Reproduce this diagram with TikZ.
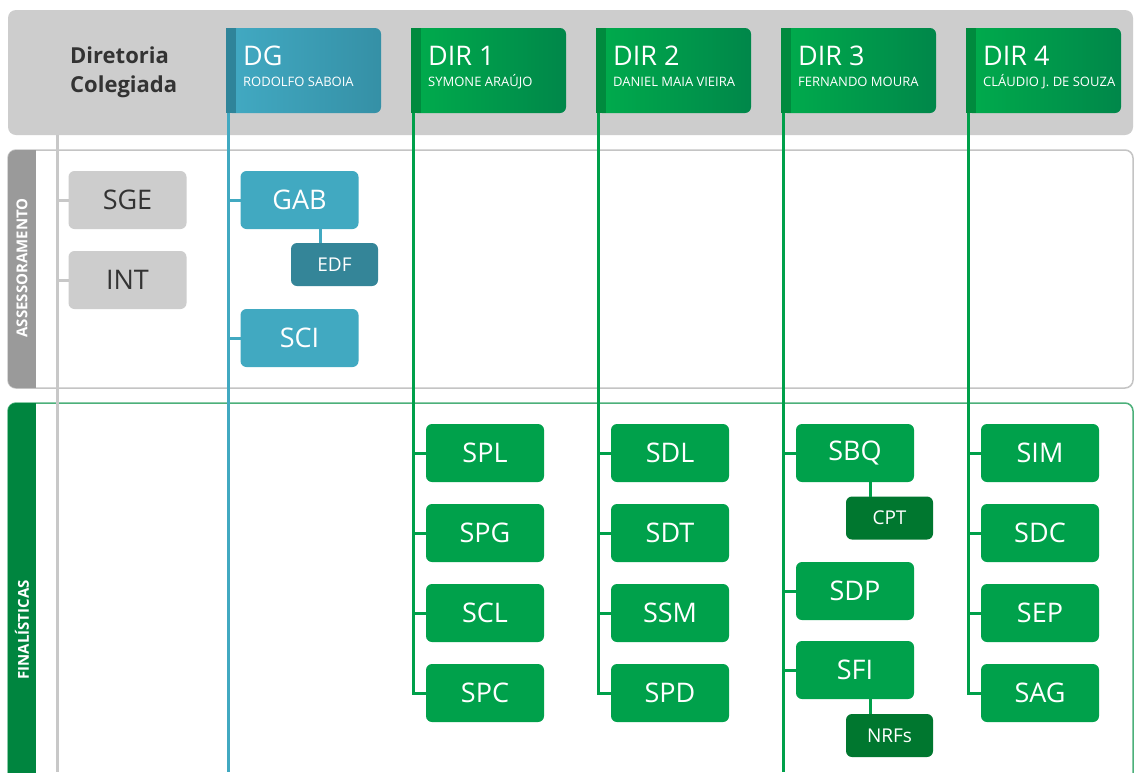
\documentclass[tikz,border=0pt]{standalone}
\usepackage{fontspec}
\setmainfont{Open Sans}
\usetikzlibrary{positioning}

\definecolor{hdrgray}{HTML}{CDCDCD}
\definecolor{panelgray}{HTML}{C4C4C4}
\definecolor{stripgray}{HTML}{9A9A9A}
\definecolor{stripgreen}{HTML}{00853F}
\definecolor{panelgreen}{HTML}{4CB07A}
\definecolor{linegray}{HTML}{C8C8C8}
\definecolor{bluelink}{HTML}{41A9C1}
\definecolor{bluebox}{HTML}{41A9C1}
\definecolor{blueboxdk}{HTML}{348598}
\definecolor{greenlink}{HTML}{00A04A}
\definecolor{greenbox}{HTML}{00A14B}
\definecolor{greenboxdk}{HTML}{00772F}
\definecolor{textdark}{HTML}{333333}
\definecolor{blueL}{HTML}{42AAC3}
\definecolor{blueR}{HTML}{3590A6}
\definecolor{blueS}{HTML}{2F8499}
\definecolor{greenL}{HTML}{00AC4C}
\definecolor{greenR}{HTML}{00874A}
\definecolor{greenS}{HTML}{008A3E}

\tikzset{
  hdrbox/.style={rounded corners=6pt, minimum width=155pt, minimum height=85pt, inner sep=0pt, outer sep=0pt},
  unit/.style={rounded corners=6pt, minimum width=118pt, minimum height=58pt, inner sep=0pt, outer sep=0pt,
    font=\fontsize{27}{27}\selectfont},
  subunit/.style={rounded corners=6pt, minimum width=87pt, minimum height=43pt, inner sep=0pt, outer sep=0pt,
    font=\fontsize{19}{19}\selectfont, text=white},
  grayunit/.style={unit, fill=hdrgray, text=textdark},
  blueunit/.style={unit, fill=bluebox, text=white},
  greenunit/.style={unit, fill=greenbox, text=white},
  graylnk/.style={draw=linegray, line width=3pt},
  bluelnk/.style={draw=bluelink, line width=3pt},
  greenlnk/.style={draw=greenlink, line width=3pt},
  sidelabel/.style={rotate=90, text=white, font=\bfseries\fontsize{15}{15}\selectfont}
}

\begin{document}
\begin{tikzpicture}[x=1pt, y=-1pt]
  \useasboundingbox (0,0) rectangle (1134,772);
  \clip (0,0) rectangle (1134,772);
  \fill[white] (0,0) rectangle (1134,772);

  % header band
  \fill[hdrgray, rounded corners=8pt] (8,10) rectangle (1133,135);
  \node[anchor=base west, align=left, inner sep=0pt, text=textdark, font=\bfseries\fontsize{22}{29}\selectfont] (board) at (70,92) {Diretoria\\Colegiada};

  % panels
  \filldraw[white, draw=panelgray, line width=1.5pt, rounded corners=8pt] (8,150) rectangle (1133,388);
  \begin{scope}
    \clip[rounded corners=8pt] (8,150) rectangle (1133,388);
    \fill[stripgray] (8,150) rectangle (36,388);
  \end{scope}
  \node[sidelabel] (assess) at (22,268) {ASSESSORAMENTO};

  \filldraw[white, draw=panelgreen, line width=1.5pt, rounded corners=8pt] (8,403) rectangle (1133,800);
  \begin{scope}
    \clip[rounded corners=8pt] (8,403) rectangle (1133,800);
    \fill[stripgreen] (8,403) rectangle (36,800);
  \end{scope}
  \node[sidelabel] (final) at (22,630) {FINALÍSTICAS};

  % header boxes
  \foreach \nm/\x/\cl/\ttl/\who in {dg/226/blue/DG/RODOLFO SABOIA, d1/411/green/DIR 1/SYMONE ARAÚJO,
      d2/596/green/DIR 2/DANIEL MAIA VIEIRA, d3/781/green/DIR 3/FERNANDO MOURA, d4/966/green/DIR 4/CLÁUDIO J. DE SOUZA} {
    \node[hdrbox, left color=\cl L, right color=\cl R] (\nm) at ({\x+77.5},70.5) {};
    \fill[\cl S] (\nm.north west) rectangle ([xshift=10pt]\nm.south west);
    \coordinate (\nm-l) at ([xshift=2pt]\nm.south west);
    \node[anchor=base west, text=white, inner sep=0pt, font=\fontsize{27}{27}\selectfont] (\nm-t) at ([xshift=17pt,yshift=-37pt]\nm.north west) {\ttl};
    \node[anchor=base west, text=white, inner sep=0pt, font=\fontsize{13}{13}\selectfont] (\nm-w) at ([xshift=17pt,yshift=-58pt]\nm.north west) {\who};
  }

  \coordinate (cg) at (57,135);
  \coordinate (bottom) at (0,772);

  % units
  \node[grayunit] (sge) at (127.5,200) {SGE};
  \node[grayunit] (int) at (127.5,280) {INT};
  \node[blueunit] (gab) at (299.5,200) {GAB};
  \node[subunit, fill=blueboxdk] (edf) at (334.5,264.5) {EDF};
  \node[blueunit] (sci) at (299.5,338) {SCI};

  \node[greenunit] (spl) at (485,453) {SPL};
  \node[greenunit] (spg) at (485,533) {SPG};
  \node[greenunit] (scl) at (485,613) {SCL};
  \node[greenunit] (spc) at (485,693) {SPC};

  \node[greenunit] (sdl) at (670,453) {SDL};
  \node[greenunit] (sdt) at (670,533) {SDT};
  \node[greenunit] (ssm) at (670,613) {SSM};
  \node[greenunit] (spd) at (670,693) {SPD};

  \node[greenunit] (sbq) at (855,453) {SBQ};
  \node[subunit, fill=greenboxdk] (cpt) at (889.5,518) {CPT};
  \node[greenunit] (sdp) at (855,591) {SDP};
  \node[greenunit] (sfi) at (855,670) {SFI};
  \node[subunit, fill=greenboxdk] (nrf) at (889.5,735.5) {NRFs};

  \node[greenunit] (sim) at (1040,453) {SIM};
  \node[greenunit] (sdc) at (1040,533) {SDC};
  \node[greenunit] (sep) at (1040,613) {SEP};
  \node[greenunit] (sag) at (1040,693) {SAG};

  % links
  \draw[graylnk] (cg) -- (cg |- bottom);
  \draw[graylnk] (sge.west) -- (sge.west -| cg);
  \draw[graylnk] (int.west) -- (int.west -| cg);

  \draw[bluelnk] (dg-l) -- (dg-l |- bottom);
  \draw[bluelnk] (gab.west) -- (gab.west -| dg-l);
  \draw[bluelnk] (sci.west) -- (sci.west -| dg-l);
  \draw[bluelnk] ([xshift=20.5pt]gab.south) -- ([xshift=20.5pt]gab.south |- edf.north);

  \draw[greenlnk] (d1-l) |- (spc.west);
  \draw[greenlnk] (spl.west) -- (spl.west -| d1-l);
  \draw[greenlnk] (spg.west) -- (spg.west -| d1-l);
  \draw[greenlnk] (scl.west) -- (scl.west -| d1-l);

  \draw[greenlnk] (d2-l) |- (spd.west);
  \draw[greenlnk] (sdl.west) -- (sdl.west -| d2-l);
  \draw[greenlnk] (sdt.west) -- (sdt.west -| d2-l);
  \draw[greenlnk] (ssm.west) -- (ssm.west -| d2-l);

  \draw[greenlnk] (d3-l) -- (d3-l |- bottom);
  \draw[greenlnk] (sbq.west) -- (sbq.west -| d3-l);
  \draw[greenlnk] (sdp.west) -- (sdp.west -| d3-l);
  \draw[greenlnk] (sfi.west) -- (sfi.west -| d3-l);
  \draw[greenlnk] ([xshift=15pt]sbq.south) -- ([xshift=15pt]sbq.south |- cpt.north);
  \draw[greenlnk] ([xshift=15pt]sfi.south) -- ([xshift=15pt]sfi.south |- nrf.north);

  \draw[greenlnk] (d4-l) |- (sag.west);
  \draw[greenlnk] (sim.west) -- (sim.west -| d4-l);
  \draw[greenlnk] (sdc.west) -- (sdc.west -| d4-l);
  \draw[greenlnk] (sep.west) -- (sep.west -| d4-l);
\end{tikzpicture}
\end{document}
